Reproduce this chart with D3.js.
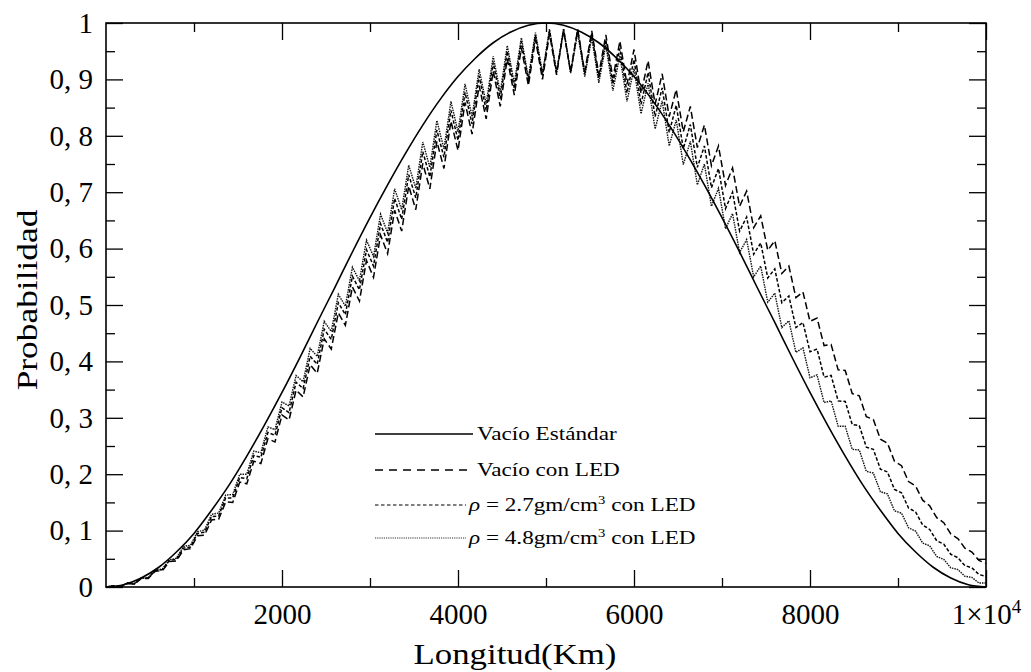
<!DOCTYPE html>
<html>
<head>
<meta charset="utf-8">
<script src="https://cdn.jsdelivr.net/npm/d3@7"></script>
<style>
body { margin: 0; background: #fff; }
text { font-family: "Liberation Serif", "Times New Roman", serif; fill: #000; }
</style>
</head>
<body>
<div id="chart"></div>
<script>
// km positions of the samples (smooth curve every 200 km, LED curves every 80 km)
var vacioX = d3.range(0, 10001, 200);
var ledX = d3.range(0, 10001, 80);

var vacioEstandar = [0, .004, .016, .035, .062, .095, .136, .181, .232, .287, .345, .406, .469, .531, .594, .655, .713, .768, .819, .865, .905, .938, .965, .984, .996, 1,
    .996, .984, .965, .938, .905, .865, .819, .768, .713, .655, .594, .531, .469, .406, .345, .287, .232, .181, .136, .095, .062, .035, .016, .004, 0];

var vacioLED = [0, .002, 0, .006, .005, .015, .015, .028, .029, .045, .046, .066, .068, .091, .092, .119, .120, .151, .150, .186, .183, .223, .219, .263, .257, .305,
    .296, .349, .337, .394, .379, .440, .422, .486, .464, .532, .507, .579, .549, .624, .591, .668, .631, .711, .669, .751, .706, .790, .742, .826, .774,
    .859, .803, .889, .830, .915, .852, .937, .872, .956, .889, .971, .900, .981, .908, .987, .913, .989, .913, .986, .909, .979, .902, .968, .891, .953,
    .875, .933, .856, .910, .834, .882, .807, .852, .779, .819, .747, .782, .712, .743, .675, .702, .637, .658, .597, .614, .556, .569, .513, .523, .471,
    .477, .428, .430, .385, .384, .343, .339, .302, .297, .262, .255, .223, .215, .187, .179, .154, .144, .123, .114, .094, .086, .069, .062, .047, .042];

var rho27LED = [0, .002, 0, .007, .005, .016, .016, .029, .031, .047, .049, .069, .071, .095, .097, .125, .126, .158, .158, .194, .192, .233, .230, .274, .269, .318,
    .309, .363, .352, .409, .395, .457, .439, .504, .483, .551, .527, .598, .569, .644, .611, .689, .652, .731, .690, .772, .727, .810, .762, .845, .792,
    .877, .821, .906, .845, .930, .866, .950, .884, .967, .897, .978, .907, .986, .912, .989, .913, .988, .910, .981, .902, .970, .892, .955, .876, .935,
    .856, .912, .834, .885, .806, .854, .777, .820, .744, .782, .708, .742, .671, .700, .631, .656, .590, .610, .548, .564, .504, .516, .460, .469, .417,
    .422, .372, .375, .330, .329, .288, .286, .248, .244, .209, .204, .173, .167, .140, .133, .110, .102, .082, .076, .058, .052, .038, .034, .022, .019];

var rho48LED = [0, .002, 0, .007, .006, .016, .017, .030, .032, .048, .051, .072, .074, .098, .101, .129, .131, .163, .164, .200, .200, .241, .238, .284, .279, .328,
    .321, .375, .364, .423, .409, .471, .453, .519, .498, .567, .543, .615, .586, .661, .628, .706, .669, .748, .707, .789, .744, .827, .777, .861, .807,
    .892, .834, .918, .857, .941, .877, .960, .893, .974, .903, .983, .911, .989, .913, .989, .911, .983, .905, .974, .894, .961, .880, .942, .861, .919,
    .839, .893, .812, .862, .782, .828, .749, .790, .713, .750, .675, .707, .635, .662, .593, .616, .550, .569, .505, .521, .460, .472, .416, .424, .371,
    .376, .327, .330, .285, .285, .244, .243, .205, .202, .169, .165, .135, .131, .105, .099, .078, .073, .054, .049, .034, .031, .019, .017, .007, .007];

var xTicksMajor = [2000, 4000, 6000, 8000, 10000];
var xTicksMinor = [1000, 3000, 5000, 7000, 9000];
var yTicksMajor = [0, 0.1, 0.2, 0.3, 0.4, 0.5, 0.6, 0.7, 0.8, 0.9, 1];
var yTicksMinor = [0.05, 0.15, 0.25, 0.35, 0.45, 0.55, 0.65, 0.75, 0.85, 0.95];

var W = 1031, H = 672;
var margin = {top: 23, right: 45, bottom: 85, left: 106};
var width = W - margin.left - margin.right;
var height = H - margin.top - margin.bottom;

var svg = d3.select("#chart")
    .append("svg")
    .attr("width", W)
    .attr("height", H);

var g = svg.append("g")
    .attr("transform", "translate(" + margin.left + "," + margin.top + ")");

var x = d3.scaleLinear().domain([0, 10000]).range([0, width]);
var y = d3.scaleLinear().domain([0, 1]).range([height, 0]);

function yFormat(d) {
    if (d === 0) return "0";
    if (d === 1) return "1";
    return "0, " + Math.round(d * 10);
}

function noDomain(sel) { sel.select(".domain").remove(); }

// bottom
var xAxisG = g.append("g").attr("transform", "translate(0," + height + ")")
    .call(d3.axisBottom(x).tickValues(xTicksMajor).tickSizeInner(-17).tickSizeOuter(0).tickPadding(16).tickFormat(d3.format("d")))
    .call(noDomain);
xAxisG.selectAll("text").style("font-size", "29px");
g.append("g").attr("transform", "translate(0," + height + ")")
    .call(d3.axisBottom(x).tickValues(xTicksMinor).tickSizeInner(-9).tickSizeOuter(0).tickFormat(""))
    .call(noDomain);
// top
g.append("g")
    .call(d3.axisTop(x).tickValues(xTicksMajor).tickSizeInner(-17).tickSizeOuter(0).tickFormat(""))
    .call(noDomain);
g.append("g")
    .call(d3.axisTop(x).tickValues(xTicksMinor).tickSizeInner(-9).tickSizeOuter(0).tickFormat(""))
    .call(noDomain);
// left
g.append("g")
    .call(d3.axisLeft(y).tickValues(yTicksMajor).tickSizeInner(-17).tickSizeOuter(0).tickPadding(13).tickFormat(yFormat))
    .call(noDomain)
    .selectAll("text").style("font-size", "29px");
g.append("g")
    .call(d3.axisLeft(y).tickValues(yTicksMinor).tickSizeInner(-9).tickSizeOuter(0).tickFormat(""))
    .call(noDomain);
// right
g.append("g").attr("transform", "translate(" + width + ",0)")
    .call(d3.axisRight(y).tickValues(yTicksMajor).tickSizeInner(-17).tickSizeOuter(0).tickFormat(""))
    .call(noDomain);
g.append("g").attr("transform", "translate(" + width + ",0)")
    .call(d3.axisRight(y).tickValues(yTicksMinor).tickSizeInner(-9).tickSizeOuter(0).tickFormat(""))
    .call(noDomain);

g.selectAll(".tick line").attr("stroke", "#000").attr("stroke-width", 1.3);

// 1x10^4 label on the bottom axis only
xAxisG.selectAll(".tick text").filter(function (d) { return d === 10000; })
    .each(function () {
        var t = d3.select(this).text("");
        t.append("tspan").text("1\u00D710");
        t.append("tspan").attr("dy", -11).style("font-size", "19px").text("4");
    });

g.append("rect")
    .attr("width", width)
    .attr("height", height)
    .attr("fill", "none")
    .attr("stroke", "#000")
    .attr("stroke-width", 1.6);

// curves
var smooth = d3.line()
    .x(function (d, i) { return x(vacioX[i]); })
    .y(function (d) { return y(d); })
    .curve(d3.curveMonotoneX);

var zig = d3.line()
    .x(function (d, i) { return x(ledX[i]); })
    .y(function (d) { return y(d); });

var series = [
    {values: rho48LED, dash: "1.5,1", width: 1.4, color: "#111"},
    {values: rho27LED, dash: "3.5,2", width: 1.5, color: "#000"},
    {values: vacioLED, dash: "7,3.5", width: 1.5, color: "#000"}
];

g.selectAll(".led")
    .data(series)
    .enter()
    .append("path")
    .attr("class", "led")
    .attr("d", function (d) { return zig(d.values); })
    .attr("fill", "none")
    .attr("stroke", function (d) { return d.color; })
    .attr("stroke-width", function (d) { return d.width; })
    .attr("stroke-dasharray", function (d) { return d.dash; });

g.append("path")
    .attr("d", smooth(vacioEstandar))
    .attr("fill", "none")
    .attr("stroke", "#000")
    .attr("stroke-width", 1.6);

// legend
var legendRows = [
    {y: 434, x1: 375, x2: 473, dash: null, width: 1.4, color: "#000", tx: 477, rho: null, label: "Vacío Estándar"},
    {y: 470, x1: 375, x2: 470, dash: "8,6", width: 1.3, color: "#000", tx: 477, rho: null, label: "Vacío con LED"},
    {y: 505, x1: 375, x2: 466, dash: "3.5,2.5", width: 1.2, color: "#000", tx: 469, rho: "2.7", label: null},
    {y: 538, x1: 375, x2: 466, dash: "1.2,1", width: 1.1, color: "#333", tx: 469, rho: "4.8", label: null}
];

var leg = svg.append("g");
legendRows.forEach(function (r) {
    leg.append("line")
        .attr("x1", r.x1).attr("x2", r.x2)
        .attr("y1", r.y).attr("y2", r.y)
        .attr("stroke", r.color)
        .attr("stroke-width", r.width)
        .attr("stroke-dasharray", r.dash);
    var t = leg.append("text")
        .attr("transform", "translate(" + r.tx + "," + (r.y + 6) + ") scale(1.22,1)")
        .style("font-size", "19px");
    if (r.rho) {
        t.append("tspan").style("font-style", "italic").text("\u03C1");
        t.append("tspan").text(" = " + r.rho + "gm/cm");
        t.append("tspan").attr("dy", -7).style("font-size", "12px").text("3");
        t.append("tspan").attr("dy", 7).text(" con LED");
    } else {
        t.text(r.label);
    }
});

// axis titles
svg.append("text")
    .attr("transform", "translate(515,664) scale(1.2,1)")
    .attr("text-anchor", "middle")
    .style("font-size", "29px")
    .text("Longitud(Km)");

svg.append("text")
    .attr("transform", "translate(37,300) rotate(-90) scale(1.22,1)")
    .attr("text-anchor", "middle")
    .style("font-size", "29px")
    .text("Probabilidad");
</script>
</body>
</html>
